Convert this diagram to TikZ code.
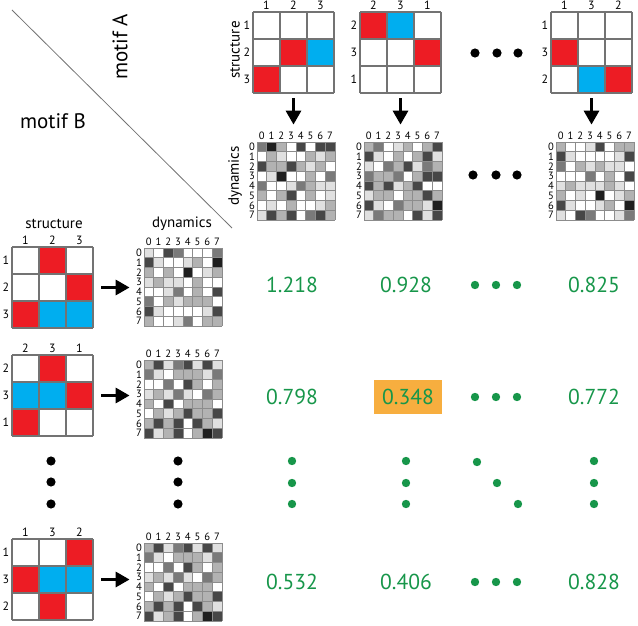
\documentclass[tikz,border=0pt]{standalone}
\usepackage{fontspec}
\setmainfont{PT Sans}
\setsansfont{PT Sans}
\usetikzlibrary{arrows.meta,positioning}
\definecolor{motred}{HTML}{ED1C24}
\definecolor{motblue}{HTML}{00AEEF}
\definecolor{score}{HTML}{17964A}
\definecolor{best}{HTML}{F7AE3F}
\tikzset{
  cellline/.style={draw=black!55,line width=0.55pt},
  dynline/.style={draw=black!45,line width=0.35pt},
  lab/.style={font=\fontsize{6}{7}\selectfont,inner sep=0pt},
  tinylab/.style={font=\fontsize{5.3}{6}\selectfont,inner sep=0pt},
  bigarrow/.style={line width=1.6pt,-{Triangle[width=7.5pt,length=7pt]}},
  scoretext/.style={text=score,font=\fontsize{10.8}{12}\selectfont},
  bdot/.style={fill=black},
  gdot/.style={fill=score},
}
% name, x, y, column labels, row labels, coloured cells r/c/colour
\newcommand\motifmat[6]{%
  \foreach \r/\c/\cl in {#6} \fill[\cl] (#2+27*\c-27,#3+27*\r-27) rectangle ++(27,27);
  \foreach \i in {0,...,3} {
    \draw[cellline] (#2+27*\i,#3) -- ++(0,81);
    \draw[cellline] (#2,#3+27*\i) -- ++(81,0);
  }
  \foreach \l [count=\i] in {#4} \node[lab] (#1-c\i) at (#2+27*\i-13.5,#3-6.5) {\l};
  \foreach \l [count=\i] in {#5} \node[lab] (#1-r\i) at (#2-6,#3+27*\i-13.5) {\l};
  \node[inner sep=0pt,minimum size=40.5pt] (#1) at (#2+40.5,#3+40.5) {};
}
% name, x, y, rows of shades 0..5
\newcommand\dyngrid[4]{%
  \foreach \rowv [count=\r] in {#4} {
    \foreach \v [count=\c] in \rowv {
      \edef\pct{\ifcase\v\space 0\or 12\or 30\or 52\or 72\or 88\fi}
      \fill[black!\pct] (#2+9.75*\c-9.75,#3+9.75*\r-9.75) rectangle ++(9.75,9.75);
    }
  }
  \foreach \i in {0,...,8} {
    \draw[dynline] (#2+9.75*\i,#3) -- ++(0,78);
    \draw[dynline] (#2,#3+9.75*\i) -- ++(78,0);
  }
  \foreach \i in {0,...,7} {
    \node[tinylab] (#1-c\i) at (#2+9.75*\i+4.875,#3-6) {\i};
    \node[tinylab] (#1-r\i) at (#2-5,#3+9.75*\i+4.875) {\i};
  }
  \node[inner sep=0pt,minimum size=39pt] (#1) at (#2+39,#3+39) {};
}
\begin{document}
\begin{tikzpicture}[x=0.5pt,y=-0.5pt,font=\fontsize{7.5}{9}\selectfont]
\useasboundingbox (0,0) rectangle (638,626);
\draw[black!55,line width=0.4pt] (12,10) -- (232,228);
\node[font=\fontsize{10.5}{12}\selectfont,rotate=90] (motA) at (120,47) {motif A};
\node[font=\fontsize{10.5}{12}\selectfont] (motB) at (53,121) {motif B};
\node[rotate=90] (headAs) at (235,50) {structure};
\node[rotate=90] (headAd) at (235,176) {dynamics};
\node (headBs) at (54,224) {structure};
\node (headBd) at (182,224) {dynamics};

% motif A along the top
\motifmat{sA1}{253}{12}{1,2,3}{1,2,3}{2/2/motred,2/3/motblue,3/1/motred}
\motifmat{sA2}{360}{12}{2,3,1}{2,3,1}{1/1/motred,1/2/motblue,2/3/motred}
\motifmat{sA3}{551}{12}{1,3,2}{1,3,2}{2/1/motred,3/2/motblue,3/3/motred}
\dyngrid{dA1}{257}{142}{{3,5,2,0,4,0,4,4},{0,2,1,0,0,2,1,2},{4,2,2,4,2,1,2,0},{0,1,5,0,0,2,0,3},
  {3,0,0,1,3,2,1,1},{2,0,2,4,0,2,0,1},{0,1,0,2,0,0,1,2},{1,4,2,4,0,3,4,2}}
\dyngrid{dA2}{364}{142}{{2,3,0,1,2,0,2,4},{4,1,0,2,0,2,4,1},{1,0,3,2,4,1,3,2},{3,2,2,3,0,2,4,4},
  {4,2,4,1,2,4,0,0},{1,2,2,0,2,2,4,2},{4,1,0,3,2,2,1,5},{1,3,2,2,0,4,1,4}}
\dyngrid{dA3}{556}{142}{{2,0,0,1,4,0,2,2},{4,1,0,0,0,0,1,4},{3,0,2,1,2,1,1,0},{0,0,0,3,0,2,0,4},
  {1,2,1,1,1,2,1,0},{2,0,1,0,5,0,1,2},{4,1,0,0,1,2,0,5},{1,0,4,3,0,0,1,3}}
\draw[bigarrow] ([yshift=-2.5pt]sA1.south) -- ([yshift=8.5pt]sA1.south |- dA1.north);
\draw[bigarrow] ([yshift=-2.5pt]sA2.south) -- ([yshift=8.5pt]sA2.south |- dA2.north);
\draw[bigarrow] ([yshift=-2.5pt]sA3.south) -- ([yshift=8.5pt]sA3.south |- dA3.north);
\foreach \x in {475,497,518} \fill[bdot] (\x,53) circle[radius=2.3pt];
\foreach \x in {473,496,517} \fill[bdot] (\x,175) circle[radius=2.3pt];

% motif B down the left
\motifmat{sB1}{12}{247}{1,2,3}{1,2,3}{1/2/motred,2/3/motred,3/1/motred,3/2/motblue,3/3/motblue}
\motifmat{sB2}{12}{355}{2,3,1}{2,3,1}{1/2/motred,2/1/motblue,2/2/motblue,2/3/motred,3/1/motred}
\motifmat{sB3}{12}{539}{1,3,2}{1,3,2}{1/3/motred,2/1/motred,2/2/motblue,2/3/motblue,3/2/motred}
\dyngrid{dB1}{144}{248}{{1,0,4,3,0,0,0,3},{4,1,0,0,1,2,0,5},{2,0,2,0,5,0,1,2},{1,2,1,1,0,2,0,0},
  {0,0,1,3,0,2,0,4},{3,0,2,1,2,2,2,0},{4,1,0,0,0,0,1,4},{2,0,0,1,3,0,2,2}}
\dyngrid{dB2}{144}{360}{{2,4,1,3,4,1,4,1},{3,1,0,2,2,2,1,3},{0,0,3,0,4,2,0,2},{1,2,1,3,1,0,3,2},
  {2,0,4,0,2,2,2,0},{0,2,1,2,4,2,2,4},{2,4,2,4,0,4,2,1},{4,1,2,4,0,2,5,4}}
\dyngrid{dB3}{144}{543}{{2,4,1,3,4,1,4,1},{3,1,0,2,2,2,1,3},{0,0,3,0,4,2,0,2},{1,2,1,3,1,0,3,2},
  {2,0,4,0,2,2,2,0},{0,2,1,2,4,2,2,4},{2,4,2,4,0,4,2,1},{4,1,2,4,0,2,5,4}}
\draw[bigarrow] ([xshift=4pt]sB1.east) -- ([xshift=-7pt]dB1.west |- sB1.east);
\draw[bigarrow] ([xshift=4pt]sB2.east) -- ([xshift=-7pt]dB2.west |- sB2.east);
\draw[bigarrow] ([xshift=4pt]sB3.east) -- ([xshift=-7pt]dB3.west |- sB3.east);
\foreach \x in {51,178} \foreach \y in {461,482,504} \fill[bdot] (\x,\y) circle[radius=2.3pt];

% scores
\node[scoretext] (v11) at (292,285) {1.218};
\node[scoretext] (v12) at (406,285) {0.928};
\node[scoretext] (v13) at (594,285) {0.825};
\node[scoretext] (v21) at (292,397) {0.798};
\node[scoretext,fill=best,minimum width=34pt,minimum height=17pt,inner sep=0pt] (v22) at (408,397) {0.348};
\node[scoretext] (v23) at (594,397) {0.772};
\node[scoretext] (v31) at (292,582) {0.532};
\node[scoretext] (v32) at (406,582) {0.406};
\node[scoretext] (v33) at (594,582) {0.828};
\foreach \y in {285,397,582} \foreach \x in {475,496,517} \fill[gdot] (\x,\y) circle[radius=2.1pt];
\foreach \x in {292,406,594} \foreach \y in {461,483,504} \fill[gdot] (\x,\y) circle[radius=2.1pt];
\foreach \x/\y in {477/462,497/483,518/504} \fill[gdot] (\x,\y) circle[radius=2.1pt];
\end{tikzpicture}
\end{document}
